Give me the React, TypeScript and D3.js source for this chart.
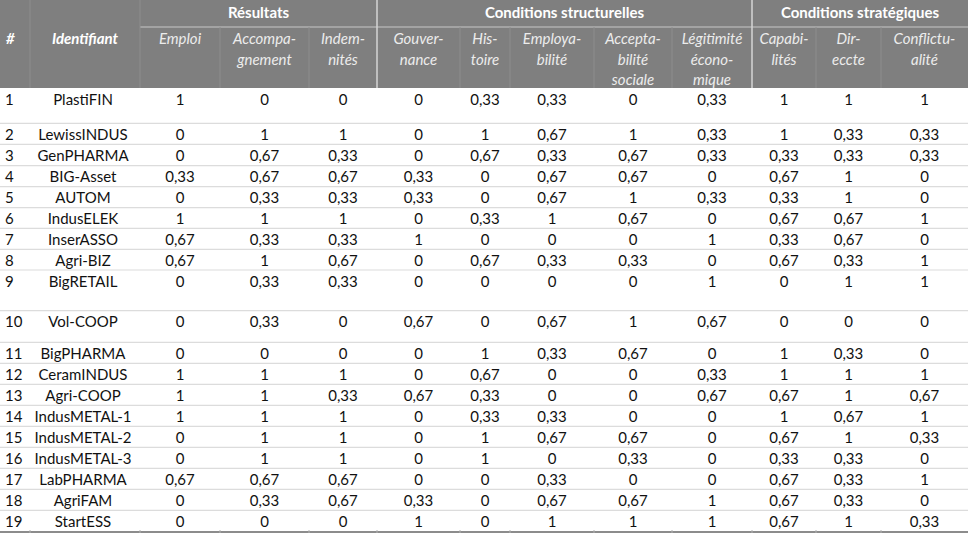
import React, { useEffect, useRef } from "react";
import * as d3 from "d3";

// ---- data ----
const identifiants = [
  "PlastiFIN", "LewissINDUS", "GenPHARMA", "BIG-Asset", "AUTOM", "IndusELEK", "InserASSO",
  "Agri-BIZ", "BigRETAIL", "Vol-COOP", "BigPHARMA", "CeramINDUS", "Agri-COOP", "IndusMETAL-1",
  "IndusMETAL-2", "IndusMETAL-3", "LabPHARMA", "AgriFAM", "StartESS",
];
const emploi = [1, 0, 0, 0.33, 0, 1, 0.67, 0.67, 0, 0, 0, 1, 1, 1, 0, 0, 0.67, 0, 0];
const accompagnement = [0, 1, 0.67, 0.67, 0.33, 1, 0.33, 1, 0.33, 0.33, 0, 1, 1, 1, 1, 1, 0.67, 0.33, 0];
const indemnites = [0, 1, 0.33, 0.67, 0.33, 1, 0.33, 0.67, 0.33, 0, 0, 1, 0.33, 1, 1, 1, 0.67, 0.67, 0];
const gouvernance = [0, 0, 0, 0.33, 0.33, 0, 1, 0, 0, 0.67, 0, 0, 0.67, 0, 0, 0, 0, 0.33, 1];
const histoire = [0.33, 1, 0.67, 0, 0, 0.33, 0, 0.67, 0, 0, 1, 0.67, 0.33, 0.33, 1, 1, 0, 0, 0];
const employabilite = [0.33, 0.67, 0.33, 0.67, 0.67, 1, 0, 0.33, 0, 0.67, 0.33, 0, 0, 0.33, 0.67, 0, 0.33, 0.67, 1];
const acceptabilite = [0, 1, 0.67, 0.67, 1, 0.67, 0, 0.33, 0, 1, 0.67, 0, 0, 0, 0.67, 0.33, 0, 0.67, 1];
const legitimite = [0.33, 0.33, 0.33, 0, 0.33, 0, 1, 0, 1, 0.67, 0, 0.33, 0.67, 0, 0, 0, 0, 1, 1];
const capabilites = [1, 1, 0.33, 0.67, 0.33, 0.67, 0.33, 0.67, 0, 0, 1, 1, 0.67, 1, 0.67, 0.33, 0.67, 0.67, 0.67];
const direccte = [1, 0.33, 0.33, 1, 1, 0.67, 0.67, 0.33, 1, 0, 0.33, 1, 1, 0.67, 1, 0.33, 0.33, 0.33, 1];
const conflictualite = [1, 0.33, 0.33, 0, 0, 1, 0, 1, 1, 0, 0, 1, 0.67, 1, 0.33, 0, 1, 0, 0.33];

const valueColumns = [emploi, accompagnement, indemnites, gouvernance, histoire, employabilite,
  acceptabilite, legitimite, capabilites, direccte, conflictualite];

const columnHeaders = [
  ["Emploi"], ["Accompa-", "gnement"], ["Indem-", "nités"], ["Gouver-", "nance"], ["His-", "toire"],
  ["Employa-", "bilité"], ["Accepta-", "bilité", "sociale"], ["Légitimité", "écono-", "mique"],
  ["Capabi-", "lités"], ["Dir-", "eccte"], ["Conflictu-", "alité"],
];
const groupNames = ["Résultats", "Conditions structurelles", "Conditions stratégiques"];
const groupSpans = [3, 5, 3];

// ---- layout ----
const W = 968, H = 534;
const colWidths = [30, 110, 80, 89, 68, 83, 50, 84, 78, 80, 64, 65, 87];
const rowHeights = [35.3, 21, 21.4, 21, 21, 20.6, 21, 20.7, 40.7, 31.6, 21, 21, 21, 21, 21, 21, 21, 21, 20.7];
const headerH = 88;
const groupRowH = 27;
const FONT = "Lato, 'Open Sans', sans-serif";
const FS = 15;

export default function App() {
  const ref = useRef<SVGSVGElement>(null);
  useEffect(() => {
    const svg = d3.select(ref.current);
    svg.selectAll("*").remove();
    const colX = [0, ...d3.cumsum(colWidths)];
    const rowY = [headerH, ...Array.from(d3.cumsum(rowHeights), (v) => v + headerH)];
    const fmt = (v: number) => d3.format("~g")(v).replace(".", ",");

    // header background
    svg.append("rect").attr("x", 0).attr("y", 0).attr("width", W).attr("height", headerH).attr("fill", "#7f7f7f");
    // group separator line
    svg.append("line").attr("x1", colX[2]).attr("x2", W).attr("y1", groupRowH).attr("y2", groupRowH)
      .attr("stroke", "#a3a3a3").attr("stroke-width", 2);
    // sub column dividers
    const groupBounds = [2];
    groupSpans.forEach((s) => groupBounds.push(groupBounds[groupBounds.length - 1] + s));
    for (let i = 1; i < colX.length - 1; i++) {
      const isGroup = groupBounds.includes(i);
      svg.append("line").attr("x1", colX[i]).attr("x2", colX[i])
        .attr("y1", isGroup || i < 2 ? 0 : groupRowH).attr("y2", headerH)
        .attr("stroke", isGroup && i > 2 ? "#d4d4d4" : "#8e8e8e").attr("stroke-width", isGroup && i > 2 ? 1.5 : 1);
    }
    // group names
    groupNames.forEach((g, gi) => {
      const x0 = colX[groupBounds[gi]], x1 = colX[groupBounds[gi + 1]];
      svg.append("text").attr("x", (x0 + x1) / 2).attr("y", 13).attr("dy", "0.35em")
        .attr("text-anchor", "middle").attr("fill", "#ffffff").attr("font-weight", "bold")
        .attr("font-family", FONT).attr("font-size", FS).text(g);
    });
    // # and Identifiant
    svg.append("text").attr("x", 6).attr("y", 39).attr("dy", "0.35em").attr("fill", "#fff")
      .attr("font-weight", "bold").attr("font-style", "italic").attr("font-family", FONT)
      .attr("font-size", FS).text("#");
    svg.append("text").attr("x", (colX[1] + colX[2]) / 2).attr("y", 39).attr("dy", "0.35em")
      .attr("text-anchor", "middle").attr("fill", "#fff").attr("font-weight", "bold")
      .attr("font-style", "italic").attr("font-family", FONT).attr("font-size", FS).text("Identifiant");
    // column headers
    columnHeaders.forEach((lines, ci) => {
      const cx = (colX[ci + 2] + colX[ci + 3]) / 2;
      lines.forEach((l, li) => {
        svg.append("text").attr("x", cx).attr("y", 39 + li * 20.5).attr("dy", "0.35em")
          .attr("text-anchor", "middle").attr("fill", "#ececec").attr("font-style", "italic")
          .attr("font-family", FONT).attr("font-size", FS).text(l);
      });
    });

    // row separators
    for (let r = 1; r < rowY.length - 1; r++) {
      svg.append("line").attr("x1", 0).attr("x2", W).attr("y1", rowY[r]).attr("y2", rowY[r])
        .attr("stroke", "#dcdcdc").attr("stroke-width", 1.2);
    }
    // bottom border
    const yb = rowY[rowY.length - 1];
    svg.append("line").attr("x1", 0).attr("x2", W).attr("y1", yb + 1).attr("y2", yb + 1)
      .attr("stroke", "#8c8c8c").attr("stroke-width", 2);
    for (let i = 1; i < colX.length - 1; i++) {
      svg.append("line").attr("x1", colX[i]).attr("x2", colX[i]).attr("y1", yb - 1).attr("y2", yb + 2)
        .attr("stroke", "#b0b0b0").attr("stroke-width", 1);
    }

    // body rows
    identifiants.forEach((id, r) => {
      const ty = rowY[r] + 11.5;
      const g = svg.append("g").attr("font-family", FONT).attr("font-size", FS).attr("fill", "#111");
      g.append("text").attr("x", 5).attr("y", ty).attr("dy", "0.35em").text(String(r + 1));
      g.append("text").attr("x", (colX[1] + colX[2]) / 2 - 2).attr("y", ty).attr("dy", "0.35em")
        .attr("text-anchor", "middle").text(id);
      valueColumns.forEach((col, ci) => {
        g.append("text").attr("x", (colX[ci + 2] + colX[ci + 3]) / 2).attr("y", ty).attr("dy", "0.35em")
          .attr("text-anchor", "middle").text(fmt(col[r]));
      });
    });
  }, []);
  return (
    <svg ref={ref} width={W} height={H}
      style={{ position: "absolute", left: 0, top: 0, background: "#fff" }} />
  );
}
